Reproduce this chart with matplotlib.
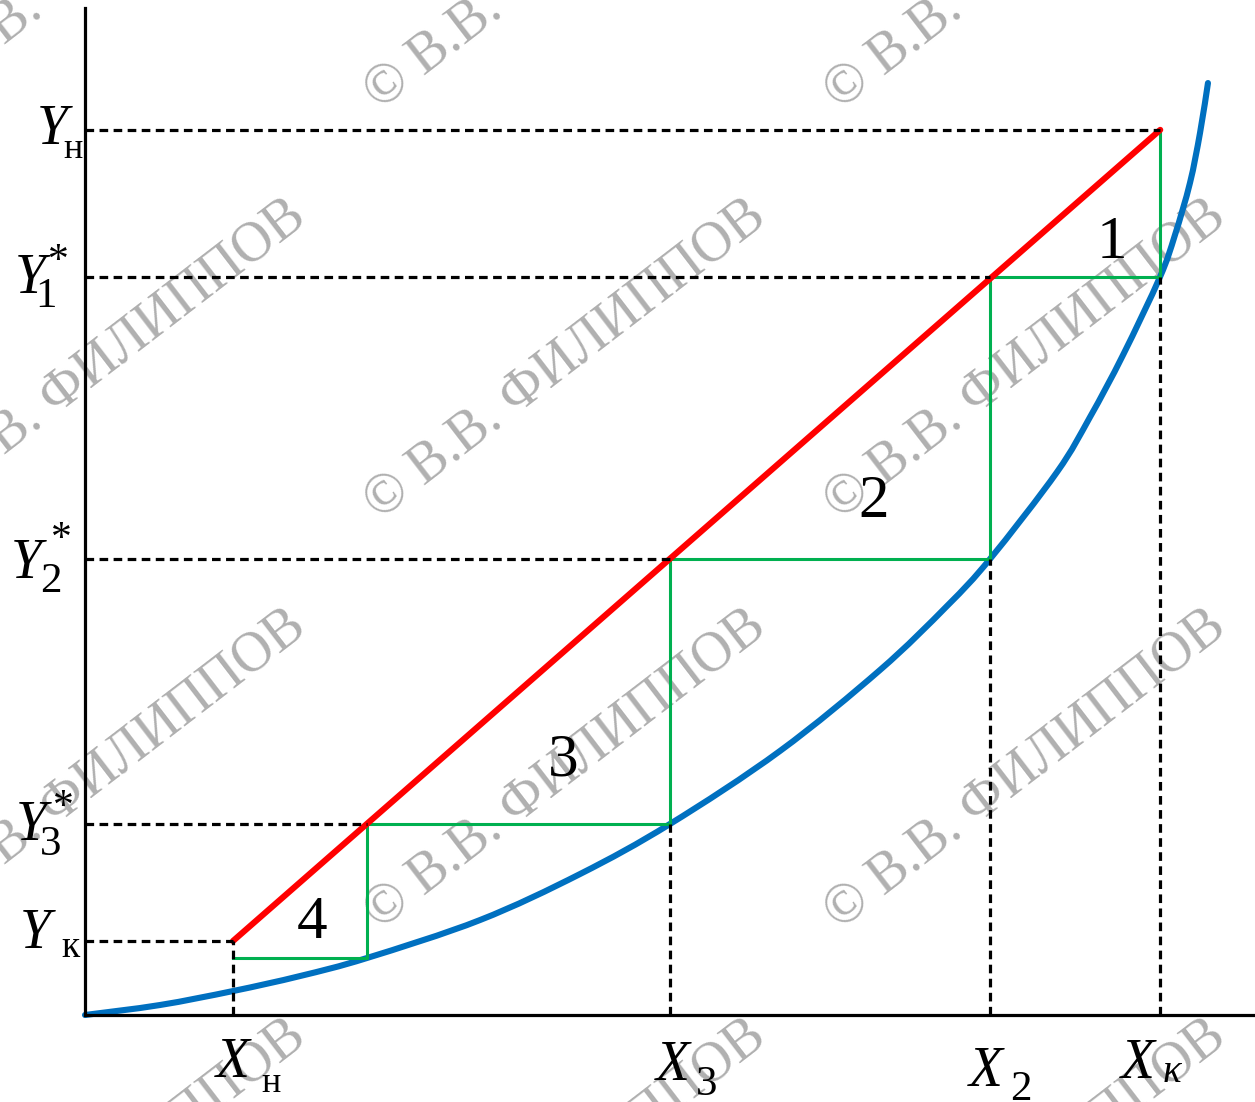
import matplotlib
matplotlib.use('Agg')
import matplotlib.pyplot as plt
from matplotlib.path import Path
from matplotlib.patches import PathPatch

SERIF = ['Liberation Serif', 'DejaVu Serif']
plt.rcParams['font.family'] = SERIF

# equilibrium curve (axes fraction units)
eq_x = [0, 0.064, 0.1265, 0.1838, 0.241, 0.3376, 0.4231, 0.5, 0.594, 0.6795,
        0.7368, 0.7735, 0.8308, 0.859, 0.8872, 0.9188, 0.9316, 0.9444, 0.953, 0.9598]
eq_y = [0, 0.0099, 0.0238, 0.0387, 0.0566, 0.0943, 0.14, 0.1897, 0.2622, 0.3426,
        0.4062, 0.4528, 0.5392, 0.5938, 0.6554, 0.7329, 0.7746, 0.8262, 0.8759, 0.9255]

# compositions
x_n, x_3, x_2, x_k = 0.1265, 0.5, 0.7735, 0.919
y_n, y_1, y_2, y_3, y_k = 0.879, 0.733, 0.453, 0.190, 0.0735
x_4, y_4 = 0.241, 0.0566   # end of step 4 on the curve

# operating line
op_x = [x_n, x_k]
op_y = [y_k, y_n]

# step construction
step_x = [x_k, x_k, x_2, x_2, x_3, x_3, x_4, x_4, x_n]
step_y = [y_n, y_1, y_1, y_2, y_2, y_3, y_3, y_4, y_4]

step_lbl = ['1', '2', '3', '4']
step_lx = [0.878, 0.674, 0.4085, 0.194]
step_ly = [0.752, 0.4945, 0.238, 0.0765]

W, H = 1255, 1102
fig = plt.figure(figsize=(W / 100, H / 100), dpi=100)
ax = fig.add_axes([85 / W, (H - 1015) / H, 1170 / W, 1007 / H])
ax.set_xlim(0, 1)
ax.set_ylim(0, 1)
for s in ['top', 'right']:
    ax.spines[s].set_visible(False)
for s in ['left', 'bottom']:
    ax.spines[s].set_linewidth(2.3)
    ax.spines[s].set_zorder(6)
ax.set_xticks([])
ax.set_yticks([])

# watermark
for cx in (105, 565, 1025):
    for cy in (-50, 360, 770, 1180):
        ax.text(cx / W, 1 - cy / H, '© В.В. ФИЛИППОВ', transform=fig.transFigure,
                rotation=37.5, rotation_mode='anchor', ha='center', va='center',
                fontsize=40, family=SERIF, color='#b0b0b0', zorder=0.5, clip_on=False)

# smooth curve through the read points (cubic bezier, catmull-rom tangents)
pts = list(zip(eq_x, eq_y))
verts = [pts[0]]
codes = [Path.MOVETO]
for i in range(len(pts) - 1):
    p0 = pts[max(i - 1, 0)]
    p1, p2 = pts[i], pts[i + 1]
    p3 = pts[min(i + 2, len(pts) - 1)]
    c1 = (p1[0] + (p2[0] - p0[0]) / 6, p1[1] + (p2[1] - p0[1]) / 6)
    c2 = (p2[0] - (p3[0] - p1[0]) / 6, p2[1] - (p3[1] - p1[1]) / 6)
    verts += [c1, c2, p2]
    codes += [Path.CURVE4] * 3
eq = PathPatch(Path(verts, codes), fill=False, edgecolor='#0070C0', lw=4.4,
               capstyle='round', joinstyle='round', zorder=2, clip_on=False)
ax.add_patch(eq)

ax.plot(step_x, step_y, color='#00B050', lw=2.2, zorder=3)
ax.plot(op_x, op_y, color='#FF0000', lw=4.4, solid_capstyle='round', zorder=4)

dots = dict(color='black', lw=2.3, ls=(0, (2.7, 1.7)), dash_capstyle='butt', zorder=5)
for yy, xx in [(y_n, x_k), (y_1, x_2), (y_2, x_3), (y_3, x_4), (y_k, x_n)]:
    ax.plot([0, xx], [yy, yy], **dots)
for xx, yy in [(x_n, y_k), (x_3, y_3), (x_2, y_2), (x_k, y_1)]:
    ax.plot([xx, xx], [0, yy], **dots)

for t, lx, ly in zip(step_lbl, step_lx, step_ly):
    ax.text(lx, ly, t, fontsize=44, family=SERIF, ha='center', va='baseline', zorder=7)


def lab(px, py, s, size, style='normal', va='baseline'):
    fig.text(px / W, 1 - py / H, s, fontsize=size, style=style, family=SERIF,
             ha='center', va=va, zorder=8)


# y-axis labels
lab(52, 144, 'Y', 40, 'italic')
lab(73, 158, 'н', 26)
lab(30, 293, 'Y', 40, 'italic')
lab(46, 307, '1', 31)
lab(58, 243, '*', 30, va='top')
lab(26, 578, 'Y', 40, 'italic')
lab(51, 592, '2', 31)
lab(61, 521, '*', 30, va='top')
lab(31, 840, 'Y', 40, 'italic')
lab(51, 855, '3', 31)
lab(63, 789, '*', 30, va='top')
lab(35, 948, 'Y', 40, 'italic')
lab(70, 957, 'к', 27)

# x-axis labels
lab(233, 1077, 'X', 40, 'italic')
lab(271, 1092, 'н', 26)
lab(673, 1080, 'X', 40, 'italic')
lab(707, 1095, '3', 31)
lab(986, 1086, 'X', 40, 'italic')
lab(1021, 1100, '2', 31)
lab(1138, 1078, 'X', 40, 'italic')
lab(1172, 1082, 'κ', 28, 'italic')

fig.savefig('out.png', dpi=100)
